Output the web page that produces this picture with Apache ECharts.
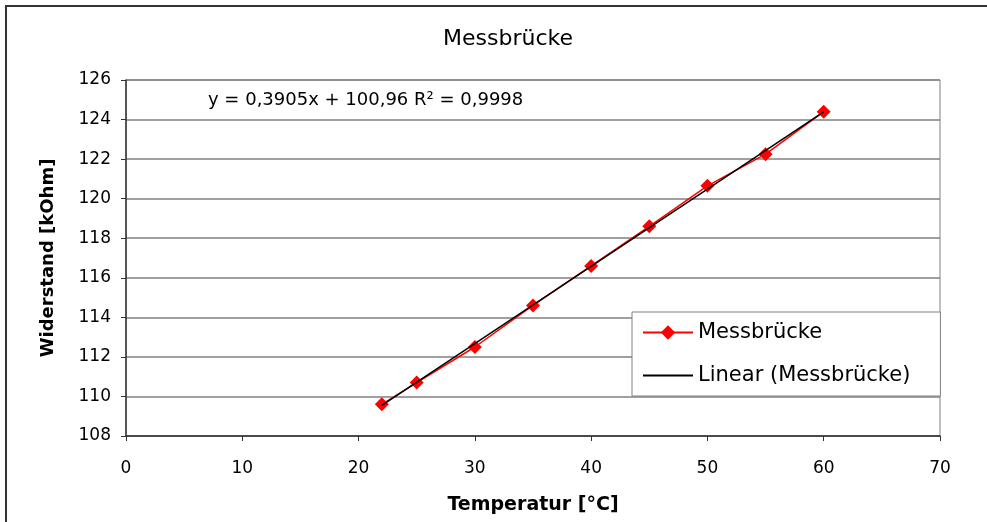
<!DOCTYPE html>
<html>
<head>
<meta charset="utf-8">
<script src="https://cdn.jsdelivr.net/npm/echarts@6/dist/echarts.min.js"></script>
<style>
  html, body { margin: 0; padding: 0; background: #fff; }
  #chart { width: 987px; height: 522px; }
</style>
</head>
<body>
<div id="chart"></div>
<script>
// Messwerte
const temperatur = [22, 25, 30, 35, 40, 45, 50, 55, 60];
const widerstand = [109.6, 110.7, 112.5, 114.6, 116.6, 118.6, 120.65, 122.25, 124.4];
// Trendlinie, Endpunkte
const trendX = [22, 60];
const trendY = [109.55, 124.39];
const gleichung = 'y = 0,3905x + 100,96 R² = 0,9998';

const chart = echarts.init(document.getElementById('chart'));
const font = '"DejaVu Sans", Verdana, sans-serif';

const option = {
  animation: false,
  title: {
    text: 'Messbrücke',
    left: 503,
    top: 23,
    textAlign: 'center',
    textStyle: { fontFamily: font, fontSize: 22, fontWeight: 'normal', color: '#000' }
  },
  graphic: [
    {
      type: 'rect',
      silent: true,
      shape: { x: 6, y: 6, width: 1000, height: 530 },
      style: { fill: 'none', stroke: '#333', lineWidth: 2 }
    },
    {
      type: 'text',
      left: 208,
      top: 91,
      z: 10,
      style: { text: gleichung, font: '18px ' + font, fill: '#000' }
    }
  ],
  legend: {
    orient: 'vertical',
    left: 632,
    top: 312,
    padding: [10, 30, 10, 10],
    itemGap: 22,
    itemWidth: 50,
    itemHeight: 18,
    backgroundColor: '#fff',
    borderColor: '#808080',
    borderWidth: 1,
    textStyle: { fontFamily: font, fontSize: 21, color: '#000' },
    data: [
      { name: 'Messbrücke' },
      { name: 'Linear (Messbrücke)', itemStyle: { opacity: 0 } }
    ]
  },
  grid: {
    left: 126,
    top: 80,
    right: 47,
    bottom: 86,
    show: true,
    borderColor: '#808080',
    borderWidth: 1
  },
  xAxis: {
    type: 'value',
    min: 0,
    max: 70,
    interval: 10,
    name: 'Temperatur [°C]',
    nameLocation: 'middle',
    nameGap: 60,
    nameTextStyle: { fontFamily: font, fontSize: 19, fontWeight: 'bold', color: '#000' },
    axisLine: { lineStyle: { color: '#333', width: 1.5 } },
    axisTick: { show: true, length: 5, lineStyle: { color: '#333' } },
    axisLabel: { fontFamily: font, fontSize: 17, color: '#000', margin: 24 },
    splitLine: { show: false }
  },
  yAxis: {
    type: 'value',
    min: 108,
    max: 126,
    interval: 2,
    name: 'Widerstand [kOhm]',
    nameLocation: 'middle',
    nameGap: 69,
    nameTextStyle: { fontFamily: font, fontSize: 18, fontWeight: 'bold', color: '#000' },
    axisLine: { show: true, lineStyle: { color: '#333', width: 1.5 } },
    axisTick: { show: true, length: 5, lineStyle: { color: '#333' } },
    axisLabel: { fontFamily: font, fontSize: 17, color: '#000', margin: 15 },
    splitLine: { show: true, lineStyle: { color: '#808080', width: 1.5 } }
  },
  series: [
    {
      name: 'Messbrücke',
      type: 'line',
      data: temperatur.map((t, i) => [t, widerstand[i]]),
      symbol: 'diamond',
      symbolSize: 14,
      itemStyle: { color: '#ff0000' },
      lineStyle: { color: '#ff0000', width: 1.5 },
      z: 2
    },
    {
      name: 'Linear (Messbrücke)',
      type: 'line',
      data: trendX.map((t, i) => [t, trendY[i]]),
      symbol: 'none',
      itemStyle: { color: '#000' },
      lineStyle: { color: '#000', width: 1.5 },
      z: 3
    }
  ]
};

chart.setOption(option);
</script>
</body>
</html>
